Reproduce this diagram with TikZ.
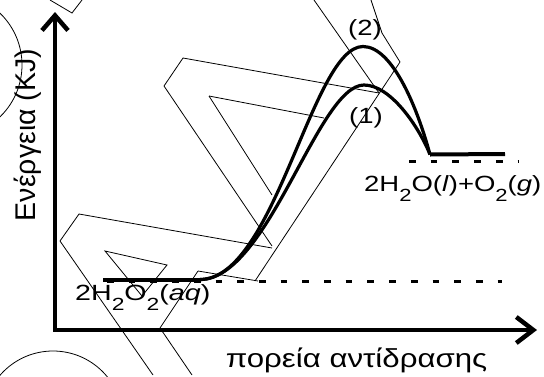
\documentclass[tikz,border=0pt]{standalone}
\usepackage{fontspec}
\setmainfont{Liberation Sans}
\usetikzlibrary{arrows.meta}
\newcommand{\sbs}[1]{\raisebox{-10pt}{\fontsize{17.6}{18}\selectfont #1}}
\begin{document}
\begin{tikzpicture}[x=1pt,y=-1pt,
  axisline/.style={line width=4.5pt, line join=miter},
  curveline/.style={line width=3.2pt},
  levelline/.style={line width=4pt},
  dashline/.style={line width=3pt, dash pattern=on 6.7pt off 15pt},
  wm/.style={line width=0.8pt},
  lbl/.style={inner sep=0pt, font=\fontsize{22}{26}\selectfont},
  axlbl/.style={inner sep=0pt, font=\fontsize{26}{30}\selectfont}]
\useasboundingbox (0,0) rectangle (544,376);
% watermark lines
\begin{scope}
\clip (0,0) rectangle (544,376);
\draw[wm] (-50,65) circle[radius=72];
\draw[wm] (53,421) circle[radius=70];
\draw[wm] (50,0) -- (72,13) -- (82,0);
\draw[wm] (164,86) -- (183,58) -- (379,93);
\draw[wm] (164,86) -- (272,246);
\draw[wm] (209,96) -- (324,118);
\draw[wm] (209,96) -- (272,195);
\draw[wm] (314,0) -- (379,93);
\draw[wm] (371,0) -- (382,33) -- (400,62) -- (255,281);
\draw[wm] (153,375) -- (60,241) -- (79,214) -- (272,248);
\draw[wm] (198,271) -- (258,281);
\draw[wm] (198,271) -- (160,328) -- (192,375);
\draw[wm] (105,251) -- (167,265) -- (142,296) -- cycle;
\end{scope}
% axes
\coordinate (ytop) at (55,12);
\coordinate (orig) at (55,330);
\coordinate (xend) at (537,330);
\draw[axisline, {Straight Barb[length=15pt,width=26pt]}-{Straight Barb[length=17pt,width=26pt]}] (ytop) -- (orig) -- (xend);
% levels
\coordinate (rs) at (103,279.5);
\coordinate (re) at (200,279.5);
\coordinate (ps) at (430,154.5);
\coordinate (pe) at (505,154);
\coordinate (d1s) at (107,281.5);
\coordinate (d1e) at (502,281.5);
\coordinate (d2s) at (409,161);
\coordinate (d2e) at (518,161);
\coordinate (top2) at (363,46.5);
\coordinate (top1) at (364,85);
\draw[dashline] (d1s) -- (d1e);
\draw[dashline] (d2s) -- (d2e);
\draw[levelline] (rs) -- (re);
\draw[levelline] (ps) -- (pe);
\draw[curveline] (re) .. controls (275,279.5) and (312,46.5) .. (top2)
   .. controls (393,46.5) and (418,110) .. (ps);
\draw[curveline] (re) .. controls (268,279.5) and (318,85) .. (top1)
   .. controls (390,85) and (418,125) .. (ps);
% labels
\node[lbl, anchor=base west] (react) at (75,300.7) {\scalebox{1.3}[1]{2H\sbs{2}O\sbs{2}(\textit{aq})}};
\node[lbl, anchor=base west] (prod) at (364,191) {\scalebox{1.25}[1]{2H\sbs{2}O(\textit{l})+O\sbs{2}(\textit{g})}};
\node[lbl, anchor=base] (p2) at (365,35.5) {\scalebox{1.25}[1]{(2)}};
\node[lbl, anchor=base] (p1) at (366,123) {\scalebox{1.25}[1]{(1)}};
\node[axlbl, anchor=base] (xl) at (356.5,367) {\scalebox{1.2}[1]{πορεία αντίδρασης}};
\node[axlbl, anchor=base, rotate=90, font=\fontsize{28.5}{32}\selectfont] (yl) at (35,135) {Ενέργεια (KJ)};
\end{tikzpicture}
\end{document}
